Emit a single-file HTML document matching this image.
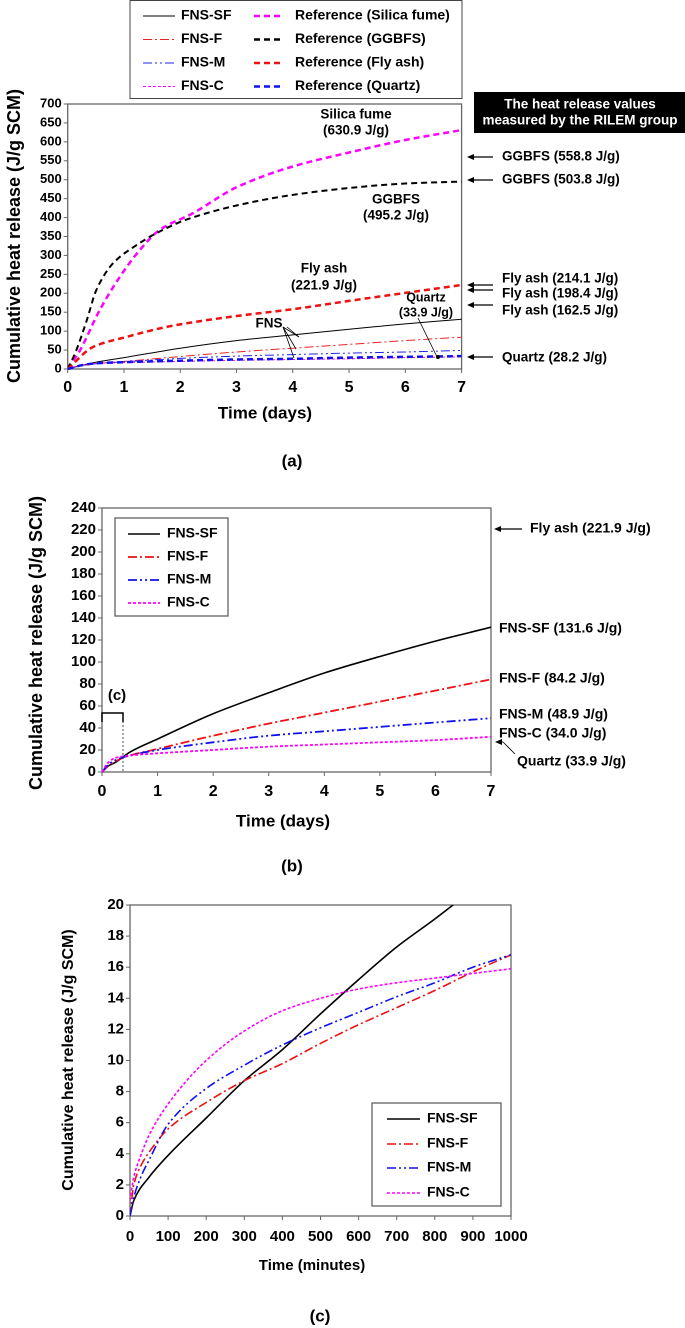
<!DOCTYPE html>
<html><head><meta charset="utf-8">
<style>
html,body{margin:0;padding:0;background:#fff;}
svg{display:block;font-family:"Liberation Sans Narrow","Liberation Sans",Arial,sans-serif;font-weight:bold;}
</style></head>
<body>
<svg id="fig" width="685" height="1328" viewBox="0 0 685 1328" xmlns="http://www.w3.org/2000/svg">
<defs>
<clipPath id="clipA"><rect x="67.7" y="100" width="394" height="270"/></clipPath>
<clipPath id="clipB"><rect x="102" y="508" width="389" height="265"/></clipPath>
<clipPath id="clipC"><rect x="130" y="905" width="381" height="312"/></clipPath>
</defs>
</svg>
<script>
// ---------- Panel (a) data ----------
const aDays=[0,0.25,0.5,1,2,3,4,5,6,7];
const aSDays=[0,0.22,0.57,0.93,1.28,1.63,2.22,3,4,5,6,7];
const aSilica=[0,50,156,244,314,367,411,480,535,572,605,631];
const aGDays=[0,0.13,0.34,0.51,0.81,1.22,1.63,2.1,3,4,5,6,7];
const aGGBFS=[0,41,129,209,280,327,363,394,432,460,478,490,495];
const aFDays=[0,0.46,1,1.82,3,4,5,6,7];
const aFlyAsh=[0,59,83,113,140,158,180,201,222];
const aQuartz=[0,10,15,18,22,25,27,30,32,34];
const aSF=[0,10,18,30,55,75,90,105,119,131.6];
const aF=[0,9,14,20,33,45,55,65,75,84];
const aM=[0,9,14,19,28,34,38,42,45,49];
const aC=[0,11,15,17,20,23,25,27,30,32];
const aYTicks=[0,50,100,150,200,250,300,350,400,450,500,550,600,650,700];
const aXTicks=[0,1,2,3,4,5,6,7];
// ---------- Panel (b) data ----------
const bDays=[0,0.1,0.25,0.5,1,2,3,4,5,6,7];
const bSF=[0,5,9,18,30,53,72,90,105,119,131.6];
const bF=[0,5,10,15,21,33,44,54,64,74,84.2];
const bM=[0,6,11,15,20,27,33,37,41,45,48.9];
const bC=[0,8,13,15,17,20,23,25,27,29,32];
const bYTicks=[0,20,40,60,80,100,120,140,160,180,200,220,240];
const bXTicks=[0,1,2,3,4,5,6,7];
// ---------- Panel (c) data ----------
const cMinSF=[0,10,50,100,200,300,400,500,600,700,800,900];
const cSF=[0,1,2.5,3.9,6.3,8.7,10.7,13,15.2,17.3,19.1,21];
const cMin=[0,10,30,50,100,200,300,400,500,600,700,800,900,1000];
const cF=[0,2,3.3,4.1,5.6,7.3,8.7,9.8,11.1,12.3,13.4,14.5,15.7,16.8];
const cM=[0,1.2,2.6,3.6,5.9,8.2,9.7,11,12.1,13.1,14.1,15,16,16.8];
const cC=[1,2.5,4,5.2,7.2,10,11.9,13.2,14,14.6,15,15.3,15.6,15.9];
const cYTicks=[0,2,4,6,8,10,12,14,16,18,20];
const cXTicks=[0,100,200,300,400,500,600,700,800,900,1000];

const NS="http://www.w3.org/2000/svg";
const fig=document.getElementById('fig');
function el(tag,attrs,parent){const e=document.createElementNS(NS,tag);for(const k in attrs)e.setAttribute(k,attrs[k]);(parent||fig).appendChild(e);return e;}
function txt(x,y,s,size,anchor,name,extra){const t=el('text',Object.assign({x:x,y:y,'font-size':size,'text-anchor':anchor||'start','dominant-baseline':'middle',fill:'#000'},extra||{}));t.textContent=s;


return t;}
function line(x1,y1,x2,y2,stroke,w,name,dash){const l=el('line',{x1:x1,y1:y1,x2:x2,y2:y2,stroke:stroke,'stroke-width':w});if(dash)l.setAttribute('stroke-dasharray',dash);


return l;}
function arrow(x1,y,x2,name){const g=el('g',{});


el('line',{x1:x1,y1:y,x2:x2+4,y2:y,stroke:'#000','stroke-width':1.2},g);
el('path',{d:`M${x2},${y} L${x2+7},${y-3} L${x2+7},${y+3} Z`,fill:'#000'},g);return g;}
// monotone cubic (Fritsch-Carlson) path
function smoothPath(pts){const n=pts.length;const dx=[],dy=[],m=[],t=new Array(n);
for(let i=0;i<n-1;i++){dx[i]=pts[i+1][0]-pts[i][0];dy[i]=pts[i+1][1]-pts[i][1];m[i]=dy[i]/dx[i];}
t[0]=m[0];t[n-1]=m[n-2];
for(let i=1;i<n-1;i++){if(m[i-1]*m[i]<=0)t[i]=0;else{const w1=2*dx[i]+dx[i-1],w2=dx[i]+2*dx[i-1];t[i]=(w1+w2)/(w1/m[i-1]+w2/m[i]);}}
let d=`M${pts[0][0].toFixed(1)},${pts[0][1].toFixed(1)}`;
for(let i=0;i<n-1;i++){const h=dx[i]/3;
d+=` C${(pts[i][0]+h).toFixed(1)},${(pts[i][1]+t[i]*h).toFixed(1)} ${(pts[i+1][0]-h).toFixed(1)},${(pts[i+1][1]-t[i+1]*h).toFixed(1)} ${pts[i+1][0].toFixed(1)},${pts[i+1][1].toFixed(1)}`;}
return d;}

function makePanel(P){
  const sx=v=>P.x0+(v-P.xmin)/(P.xmax-P.xmin)*(P.x1-P.x0);
  const sy=v=>P.y1-(v-P.ymin)/(P.ymax-P.ymin)*(P.y1-P.y0);
  const frame=el('rect',{x:P.x0,y:P.y0,width:P.x1-P.x0,height:P.y1-P.y0,fill:'none',stroke:'#666','stroke-width':1.3});
  
  
  P.yTicks.forEach(v=>{line(P.x0-4,sy(v),P.x0,sy(v),'#666',1,P.id+'-y-tick');
    txt(P.x0-6,sy(v),String(v),P.tickSize,'end',P.id+'-y-tick-label');});
  P.xTicks.forEach(v=>{line(sx(v),P.y1,sx(v),P.y1+4,'#666',1,P.id+'-x-tick');
    txt(sx(v),P.y1+P.xlabOff,String(v),P.xTickSize,'middle',P.id+'-x-tick-label');});
  P.series.forEach(s=>{const pts=s.x.map((xv,i)=>[sx(xv),sy(s.y[i])]);
    const p=el('path',{d:smoothPath(pts),fill:'none',stroke:s.color,'stroke-width':s.w,'clip-path':`url(#${P.clip})`});
    if(s.dash)p.setAttribute('stroke-dasharray',s.dash);
    
    
  });
  return {sx,sy};
}
const DASH='6 4', DD='9 3 2 3', DDD='9 3 2 3 2 3', DOT='3 2';

// ===== Panel (a) =====
const A=makePanel({id:'a',x0:67.7,x1:461.6,y0:104,y1:369,xmin:0,xmax:7,ymin:0,ymax:700,clip:'clipA',
 yTicks:aYTicks,xTicks:aXTicks,tickSize:13,xTickSize:16,xlabOff:19,
 series:[
  {name:'a-line-reference-silica-fume',x:aSDays,y:aSilica,color:'#ff00ff',w:2.5,dash:DASH},
  {name:'a-line-reference-ggbfs',x:aGDays,y:aGGBFS,color:'#000',w:2,dash:DASH},
  {name:'a-line-reference-fly-ash',x:aFDays,y:aFlyAsh,color:'#ee1111',w:2.5,dash:DASH},
  {name:'a-line-fns-sf',x:aDays,y:aSF,color:'#000',w:1},
  {name:'a-line-fns-f',x:aDays,y:aF,color:'#ee2222',w:1,dash:DD},
  {name:'a-line-fns-m',x:aDays,y:aM,color:'#2222ee',w:1,dash:DDD},
  {name:'a-line-fns-c',x:aDays,y:aC,color:'#ff00ff',w:1,dash:DOT},
  {name:'a-line-reference-quartz',x:aDays,y:aQuartz,color:'#1111ee',w:2.5,dash:DASH}
 ]});
txt(15,236,'Cumulative heat release (J/g SCM)',18,'middle','a-y-axis-title',{transform:'rotate(-90 15 236)','font-family':'Liberation Sans,Arial,sans-serif'});
txt(265,414,'Time (days)',17,'middle','a-x-axis-title');
txt(292,462,'(a)',17,'middle','a-panel-label');
// legend a
(function(){const g=el('rect',{x:130,y:0.5,width:332,height:98,fill:'#fff',stroke:'#444','stroke-width':1});


const L=[['FNS-SF','#000',1,null],['FNS-F','#ee2222',1,DD],['FNS-M','#2222ee',1,DDD],['FNS-C','#ff00ff',1,DOT]];
const R=[['Reference (Silica fume)','#ff00ff',2.5,DASH],['Reference (GGBFS)','#000',2.5,DASH],['Reference (Fly ash)','#ee1111',2.5,DASH],['Reference (Quartz)','#1111ee',2.5,DASH]];
const ys=[16,39.5,63,86.5];
L.forEach((e,i)=>{line(143,ys[i],175,ys[i],e[1],e[2],'a-legend-swatch',e[3]);txt(181,ys[i],e[0],14,'start','a-legend-entry');});
R.forEach((e,i)=>{line(254,ys[i],284,ys[i],e[1],e[2],'a-legend-swatch',e[3]);txt(295,ys[i],e[0],14,'start','a-legend-entry');});})();
// black box
(function(){const r=el('rect',{x:474,y:92,width:211,height:41,fill:'#000'});


txt(580,105,'The heat release values',13.5,'middle','rilem-note-line1',{fill:'#fff'});
txt(580,121,'measured by the RILEM group',13.5,'middle','rilem-note-line2',{fill:'#fff'});})();
txt(356,115,'Silica fume',13.5,'middle','a-label-silica-fume');
txt(356,131,'(630.9 J/g)',13.5,'middle','a-label-silica-fume-value');
txt(396,200,'GGBFS',13.5,'middle','a-label-ggbfs');
txt(396,216,'(495.2 J/g)',13.5,'middle','a-label-ggbfs-value');
txt(324,269,'Fly ash',13.5,'middle','a-label-fly-ash');
txt(324,286,'(221.9 J/g)',13.5,'middle','a-label-fly-ash-value');
txt(426,298,'Quartz',12.5,'middle','a-label-quartz');
txt(426,313,'(33.9 J/g)',12.5,'middle','a-label-quartz-value');
txt(269,324,'FNS',13.5,'middle','a-label-fns');
line(283,327,299,337,'#000',0.8,'a-fns-pointer');line(283,327,296,349,'#000',0.8,'a-fns-pointer');line(283,327,294,358,'#000',0.8,'a-fns-pointer');
line(287,327,299,337,'#000',0.8,'a-fns-pointer');
line(418,318,437,357,'#000',0.8,'a-quartz-pointer');
(function(){const c=el('circle',{cx:438,cy:357,r:2,fill:'#000'});})();
arrow(493,157,467,'a-arrow-ggbfs-558');txt(502,157,'GGBFS (558.8 J/g)',13.5,'start','a-right-label-ggbfs-558');
arrow(493,180,467,'a-arrow-ggbfs-503');txt(502,180,'GGBFS (503.8 J/g)',13.5,'start','a-right-label-ggbfs-503');
arrow(493,285,467,'a-arrow-flyash-214');arrow(493,290,467,'a-arrow-flyash-198');arrow(493,305,467,'a-arrow-flyash-162');
txt(502,279,'Fly ash (214.1 J/g)',13.5,'start','a-right-label-flyash-214');
txt(502,294,'Fly ash (198.4 J/g)',13.5,'start','a-right-label-flyash-198');
txt(502,311,'Fly ash (162.5 J/g)',13.5,'start','a-right-label-flyash-162');
arrow(493,357,467,'a-arrow-quartz');txt(502,358,'Quartz (28.2 J/g)',13.5,'start','a-right-label-quartz');

// ===== Panel (b) =====
const B=makePanel({id:'b',x0:102,x1:491,y0:508,y1:772,xmin:0,xmax:7,ymin:0,ymax:240,clip:'clipB',
 yTicks:bYTicks,xTicks:bXTicks,tickSize:15,xTickSize:16,xlabOff:20,
 series:[
  {name:'b-line-fns-sf',x:bDays,y:bSF,color:'#000',w:1.6},
  {name:'b-line-fns-f',x:bDays,y:bF,color:'#ee1111',w:1.8,dash:DD},
  {name:'b-line-fns-m',x:bDays,y:bM,color:'#1111ee',w:1.8,dash:DDD},
  {name:'b-line-fns-c',x:bDays,y:bC,color:'#ff00ff',w:1.8,dash:DOT}
 ]});
txt(37,643,'Cumulative heat release (J/g SCM)',18,'middle','b-y-axis-title',{transform:'rotate(-90 37 643)','font-family':'Liberation Sans,Arial,sans-serif'});
txt(283,822,'Time (days)',17,'middle','b-x-axis-title');
txt(292,867,'(b)',17,'middle','b-panel-label');
(function(){const r=el('rect',{x:115,y:518,width:113,height:98,fill:'#fff',stroke:'#555','stroke-width':1.2});

const L=[['FNS-SF','#000',1.6,null],['FNS-F','#ee1111',1.8,DD],['FNS-M','#1111ee',1.8,DDD],['FNS-C','#ff00ff',1.8,DOT]];
const ys=[534,557,580,603];
L.forEach((e,i)=>{line(128,ys[i],160,ys[i],e[1],e[2],'b-legend-swatch',e[3]);txt(167,ys[i],e[0],14,'start','b-legend-entry');});})();
arrow(522,529,494,'b-arrow-flyash');txt(530,529,'Fly ash (221.9 J/g)',14,'start','b-right-label-flyash');
txt(499,629,'FNS-SF (131.6 J/g)',14,'start','b-right-label-fns-sf');
txt(499,679,'FNS-F (84.2 J/g)',14,'start','b-right-label-fns-f');
txt(499,715,'FNS-M (48.9 J/g)',14,'start','b-right-label-fns-m');
txt(499,734,'FNS-C (34.0 J/g)',14,'start','b-right-label-fns-c');
line(515,754,503,742,'#000',0.8,'b-quartz-pointer');
(function(){const p=el('path',{d:'M495,742 L502,739 L502,745 Z',fill:'#000'});})();
line(499,742,503,742,'#000',0.8,'b-quartz-pointer');
txt(517,762,'Quartz (33.9 J/g)',14,'start','b-right-label-quartz');
txt(117,696,'(c)',15,'middle','b-zoom-label');
(function(){const p=el('path',{d:'M102,722 L102,713 L123,713 L123,722',fill:'none',stroke:'#000','stroke-width':1.5});})();
line(123,713,123,772,'#000',0.7,'b-zoom-guide','2 2');

// ===== Panel (c) =====
const C=makePanel({id:'c',x0:130,x1:511,y0:905,y1:1216,xmin:0,xmax:1000,ymin:0,ymax:20,clip:'clipC',
 yTicks:cYTicks,xTicks:cXTicks,tickSize:15,xTickSize:15,xlabOff:21,
 series:[
  {name:'c-line-fns-sf',x:cMinSF,y:cSF,color:'#000',w:1.6},
  {name:'c-line-fns-f',x:cMin,y:cF,color:'#ee1111',w:1.6,dash:DD},
  {name:'c-line-fns-m',x:cMin,y:cM,color:'#1111ee',w:1.6,dash:DDD},
  {name:'c-line-fns-c',x:cMin,y:cC,color:'#ff00ff',w:1.6,dash:DOT}
 ]});
txt(69,1060,'Cumulative heat release (J/g SCM)',16,'middle','c-y-axis-title',{transform:'rotate(-90 69 1060)','font-family':'Liberation Sans,Arial,sans-serif'});
txt(312,1266,'Time (minutes)',15,'middle','c-x-axis-title');
txt(320,1317,'(c)',17,'middle','c-panel-label');
(function(){const r=el('rect',{x:372,y:1103,width:129,height:103,fill:'#fff',stroke:'#555','stroke-width':1.2});

const L=[['FNS-SF','#000',1.6,null],['FNS-F','#ee1111',1.6,DD],['FNS-M','#1111ee',1.6,DDD],['FNS-C','#ff00ff',1.6,DOT]];
const ys=[1119,1144,1168,1193];
L.forEach((e,i)=>{line(387,ys[i],420,ys[i],e[1],e[2],'c-legend-swatch',e[3]);txt(427,ys[i],e[0],14,'start','c-legend-entry');});})();
</script>
</body></html>
